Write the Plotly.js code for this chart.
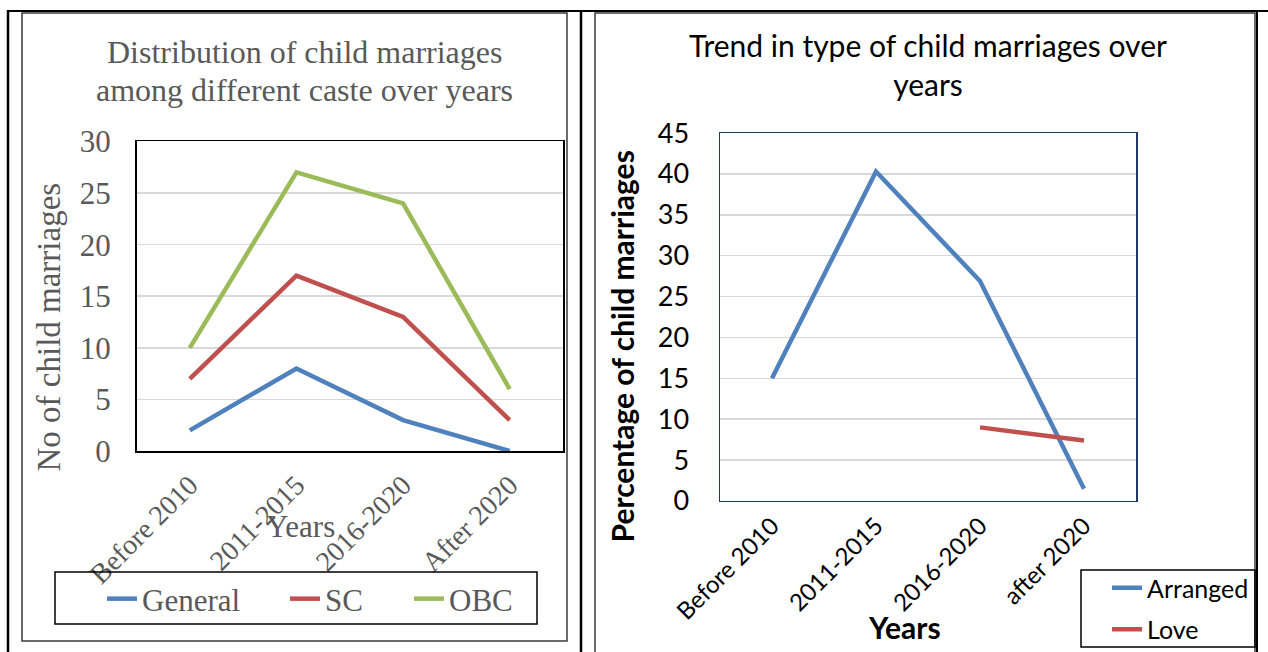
<!DOCTYPE html>
<html>
<head>
<meta charset="utf-8">
<script src="https://cdn.plot.ly/plotly-3.0.1.min.js"></script>
<style>html,body{margin:0;padding:0;background:#fff;}#chart{width:1268px;height:652px;}</style>
</head>
<body>
<div id="chart"></div>
<script>
// ---- data (left chart) ----
const casteCategories = ['Before 2010', '2011-2015', '2016-2020', 'After 2020'];
const generalValues = [2, 8, 3, 0];
const scValues = [7, 17, 13, 3];
const obcValues = [10, 27, 24, 6];
// ---- data (right chart) ----
const typeCategories = ['Before 2010', '2011-2015', '2016-2020', 'after 2020'];
const arrangedValues = [15, 40.3, 26.9, 1.5];
const loveValues = [null, null, 9, 7.4];

const W = 1268, H = 652;
const px = v => v / W;
const py = v => 1 - v / H;

const BLUE = '#4F81BD', RED = '#C0504D', GREEN = '#9BBB59';
const SERIF = 'Liberation Serif, Times New Roman, serif';
const SANS = 'Lato, Carlito, Calibri, sans-serif';
const GREY = '#595959';

const traces = [
  {x: casteCategories, y: generalValues, name: 'General', type: 'scatter', mode: 'lines', showlegend: true,
   line: {color: BLUE, width: 4.5}, xaxis: 'x', yaxis: 'y', legend: 'legend'},
  {x: casteCategories, y: scValues, name: 'SC', type: 'scatter', mode: 'lines', showlegend: true,
   line: {color: RED, width: 4.5}, xaxis: 'x', yaxis: 'y', legend: 'legend3'},
  {x: casteCategories, y: obcValues, name: 'OBC', type: 'scatter', mode: 'lines', showlegend: true,
   line: {color: GREEN, width: 4.5}, xaxis: 'x', yaxis: 'y', legend: 'legend4'},
  {x: typeCategories, y: arrangedValues, name: 'Arranged', type: 'scatter', mode: 'lines', showlegend: true,
   line: {color: BLUE, width: 4.5}, xaxis: 'x2', yaxis: 'y2', legend: 'legend2', legendgroup: 'a'},
  {x: typeCategories, y: loveValues, name: 'Love', type: 'scatter', mode: 'lines', showlegend: true,
   line: {color: RED, width: 4.5}, xaxis: 'x2', yaxis: 'y2', legend: 'legend2', legendgroup: 'b', connectgaps: false}
];

const shapes = [
  // table borders
  {type: 'line', xref: 'paper', yref: 'paper', x0: px(7), x1: px(1268), y0: py(11), y1: py(11), line: {color: '#000', width: 2}},
  {type: 'line', xref: 'paper', yref: 'paper', x0: px(8), x1: px(8), y0: py(10), y1: py(660), line: {color: '#000', width: 2.5}},
  {type: 'line', xref: 'paper', yref: 'paper', x0: px(581), x1: px(581), y0: py(10), y1: py(660), line: {color: '#000', width: 2.5}},
  {type: 'line', xref: 'paper', yref: 'paper', x0: px(1257), x1: px(1257), y0: py(10), y1: py(660), line: {color: '#000', width: 2}},
  // chart frames
  {type: 'rect', xref: 'paper', yref: 'paper', x0: px(22), x1: px(567), y0: py(13), y1: py(642), line: {color: '#3a3a3a', width: 1.5}},
  {type: 'rect', xref: 'paper', yref: 'paper', x0: px(595), x1: px(1255), y0: py(13), y1: py(670), line: {color: '#3a3a3a', width: 1.5}},
  // legend boxes
  {type: 'rect', xref: 'paper', yref: 'paper', x0: px(55), x1: px(537), y0: py(573), y1: py(625), line: {color: '#000', width: 1.5}},
  {type: 'rect', xref: 'paper', yref: 'paper', x0: px(1081), x1: px(1255), y0: py(571), y1: py(648), line: {color: '#000', width: 1.5}}
];

const annotations = [
  {xref: 'paper', yref: 'paper', x: px(304), y: py(52), xanchor: 'center', yanchor: 'middle', showarrow: false,
   text: 'Distribution of child marriages', font: {family: SERIF, size: 32, color: GREY}},
  {xref: 'paper', yref: 'paper', x: px(304), y: py(90), xanchor: 'center', yanchor: 'middle', showarrow: false,
   text: 'among different caste over years', font: {family: SERIF, size: 32, color: GREY}},
  {xref: 'paper', yref: 'paper', x: px(49), y: py(328), xanchor: 'center', yanchor: 'middle', showarrow: false, textangle: -90,
   text: 'No of child marriages', font: {family: SERIF, size: 33, color: GREY}},
  {xref: 'paper', yref: 'paper', x: px(300), y: py(527), xanchor: 'center', yanchor: 'middle', showarrow: false,
   text: 'Years', font: {family: SERIF, size: 31, color: GREY}},
  {xref: 'paper', yref: 'paper', x: px(928), y: py(65), xanchor: 'center', yanchor: 'middle', showarrow: false,
   text: 'Trend in type of child marriages over<br>years', font: {family: SANS, size: 30, color: '#000'}},
  {xref: 'paper', yref: 'paper', x: px(622), y: py(347), xanchor: 'center', yanchor: 'middle', showarrow: false, textangle: -90,
   text: '<b>Percentage of child marriages</b>', font: {family: SANS, size: 30, color: '#000'}},
  {xref: 'paper', yref: 'paper', x: px(904), y: py(628), xanchor: 'center', yanchor: 'middle', showarrow: false,
   text: '<b>Years</b>', font: {family: SANS, size: 30, color: '#000'}}
];

const leftLegend = (xPx) => ({orientation: 'h', x: px(xPx), xanchor: 'left', y: py(599), yanchor: 'middle',
  bgcolor: 'rgba(0,0,0,0)', borderwidth: 0, font: {family: SERIF, size: 31, color: GREY}});

const layout = {
  width: W, height: H,
  margin: {l: 0, r: 0, t: 0, b: 0},
  paper_bgcolor: '#fff', plot_bgcolor: '#fff',
  hovermode: false,
  showlegend: true,
  xaxis: {domain: [px(136.5), px(563)], anchor: 'y', type: 'category', range: [-0.5, 3.5],
          showgrid: false, zeroline: false, showline: true, mirror: true, linecolor: '#000', linewidth: 1.5,
          tickangle: -45, ticks: '', ticklabelstandoff: 5,
          tickfont: {family: SERIF, size: 28, color: GREY}},
  yaxis: {domain: [py(451.7), py(141.7)], anchor: 'x', range: [0, 30], dtick: 5,
          showgrid: true, gridcolor: '#D9D9D9', gridwidth: 1.5, zeroline: false,
          showline: true, mirror: true, linecolor: '#000', linewidth: 1.5,
          ticks: '', ticklabelstandoff: 18,
          tickfont: {family: SERIF, size: 31, color: GREY}},
  xaxis2: {domain: [px(720), px(1136)], anchor: 'y2', type: 'category', range: [-0.5, 3.5],
          showgrid: false, zeroline: false, showline: true, mirror: true, linecolor: '#203864', linewidth: 1.5,
          tickangle: -45, ticks: '', ticklabelstandoff: 0,
          tickfont: {family: SANS, size: 24, color: '#000'}},
  yaxis2: {domain: [py(501.7), py(133.3)], anchor: 'x2', range: [0, 45], dtick: 5,
          showgrid: true, gridcolor: '#D9D9D9', gridwidth: 1.5, zeroline: false,
          showline: true, mirror: true, linecolor: '#203864', linewidth: 1.5,
          ticks: '', ticklabelstandoff: 24,
          tickfont: {family: SANS, size: 27, color: '#000'}},
  legend: leftLegend(102),
  legend3: leftLegend(285),
  legend4: leftLegend(409),
  legend2: {orientation: 'v', x: px(1107), xanchor: 'left', y: py(609.5), yanchor: 'middle',
            bgcolor: 'rgba(0,0,0,0)', borderwidth: 0, tracegroupgap: 6, font: {family: SANS, size: 25, color: '#000'}},
  shapes: shapes,
  annotations: annotations
};

Plotly.newPlot('chart', traces, layout, {displayModeBar: false, staticPlot: true});
</script>
</body>
</html>
